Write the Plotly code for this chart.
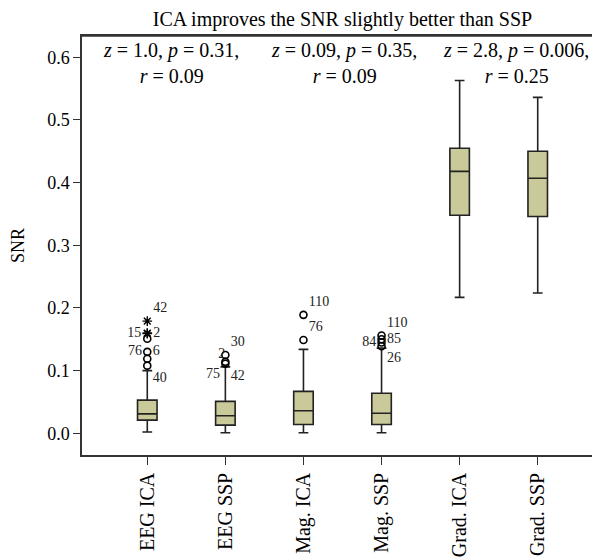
import plotly.graph_objects as go

categories = ["EEG ICA", "EEG SSP", "Mag. ICA", "Mag. SSP", "Grad. ICA", "Grad. SSP"]
q1 = [0.021, 0.013, 0.014, 0.014, 0.348, 0.346]
median = [0.031, 0.028, 0.036, 0.032, 0.418, 0.407]
q3 = [0.053, 0.051, 0.067, 0.064, 0.455, 0.450]
lower = [0.002, 0.001, 0.001, 0.001, 0.217, 0.224]
upper = [0.100, 0.106, 0.134, 0.136, 0.563, 0.536]

# outliers (circles)
out_cat = ["EEG ICA", "EEG ICA", "EEG ICA", "EEG ICA",
           "EEG SSP", "EEG SSP", "EEG SSP",
           "Mag. ICA", "Mag. ICA",
           "Mag. SSP", "Mag. SSP", "Mag. SSP", "Mag. SSP"]
out_val = [0.108, 0.119, 0.130, 0.151,
           0.111, 0.114, 0.125,
           0.149, 0.189,
           0.139, 0.145, 0.150, 0.156]
out_lab = ["40", "", "76", "6",
           "42", "75", "30",
           "76", "110",
           "26", "84", "85", "110"]
out_pos = ["bottom right", "middle right", "middle left", "bottom right",
           "bottom right", "bottom left", "top right",
           "top right", "top right",
           "bottom right", "middle left", "middle right", "top right"]

# extreme values (stars)
ext_cat = ["EEG ICA", "EEG ICA", "EEG ICA"]
ext_val = [0.159, 0.160, 0.179]
ext_lab = ["15", "2", "42"]
ext_pos = ["middle left", "middle right", "top right"]

# extra label near the EEG SSP top circle
extra_cat = ["EEG SSP"]
extra_val = [0.125]
extra_lab = ["2"]

stats_text = [
    ("<i>z</i> = 1.0, <i>p</i> = 0.31,<br><i>r</i> = 0.09", 0.30),
    ("<i>z</i> = 0.09, <i>p</i> = 0.35,<br><i>r</i> = 0.09", 2.52),
    ("<i>z</i> = 2.8, <i>p</i> = 0.006,<br><i>r</i> = 0.25", 4.72),
]

FONT = "Liberation Serif, Times New Roman, serif"
fill = "#cac99a"
dark = "#222222"
lab_col = "#222222"

fig = go.Figure()
fig.add_trace(go.Box(
    x=categories, q1=q1, median=median, q3=q3,
    lowerfence=lower, upperfence=upper,
    fillcolor=fill, line=dict(color=dark, width=1.6),
    width=0.25, whiskerwidth=0.5, boxpoints=False, showlegend=False,
    hoverinfo="skip",
))
fig.add_trace(go.Scatter(
    x=out_cat, y=out_val, mode="markers+text", text=out_lab,
    textposition=out_pos,
    textfont=dict(family=FONT, size=14, color=lab_col),
    marker=dict(symbol="circle-open", size=7, color="black", line=dict(width=1.6)),
    showlegend=False, cliponaxis=False,
))
fig.add_trace(go.Scatter(
    x=ext_cat, y=ext_val, mode="markers+text", text=ext_lab,
    textposition=ext_pos,
    textfont=dict(family=FONT, size=14, color=lab_col),
    marker=dict(symbol="asterisk-open", size=8, color="black", line=dict(width=1.4, color="black")),
    showlegend=False, cliponaxis=False,
))
fig.add_trace(go.Scatter(
    x=extra_cat, y=extra_val, mode="text", text=extra_lab,
    textposition="middle left",
    textfont=dict(family=FONT, size=14, color=lab_col),
    showlegend=False,
))

for txt, xpos in stats_text:
    fig.add_annotation(x=xpos, y=0.633, xref="x", yref="y", text=txt,
                       showarrow=False, yanchor="top", align="center",
                       font=dict(family=FONT, size=20, color="black"))

# top frame line
fig.add_shape(type="line", xref="paper", yref="paper", x0=0, x1=1, y0=1, y1=1,
              line=dict(color="#333333", width=1.5))

fig.update_layout(
    width=600, height=560,
    margin=dict(l=74, r=0, t=28, b=113, autoexpand=False),
    paper_bgcolor="white", plot_bgcolor="white",
    font=dict(family=FONT, color="black"),
    title=dict(text="ICA improves the SNR slightly better than SSP",
               x=0.5575, xanchor="center", y=0.980, yanchor="middle",
               font=dict(family=FONT, size=20, color="black")),
)
fig.update_xaxes(
    type="category", categoryorder="array", categoryarray=categories,
    range=[-0.836, 5.90], showline=True, linecolor="#333333", linewidth=1.5,
    mirror=True, ticks="outside", ticklen=8, tickcolor="#333333",
    tickangle=-90, tickfont=dict(family=FONT, size=20, color="black"),
    showgrid=False, zeroline=False, automargin=False,
)
fig.update_yaxes(
    range=[-0.0346, 0.634], tickvals=[0, 0.1, 0.2, 0.3, 0.4, 0.5, 0.6],
    tickformat=".1f", showline=True, linecolor="#333333", linewidth=1.5,
    ticks="outside", ticklen=7, tickcolor="#333333",
    tickfont=dict(family=FONT, size=18, color="black"),
    title=dict(text="SNR", font=dict(family=FONT, size=18, color="black"), standoff=19),
    showgrid=False, zeroline=False, automargin=False,
)

fig.write_html("out.html")
